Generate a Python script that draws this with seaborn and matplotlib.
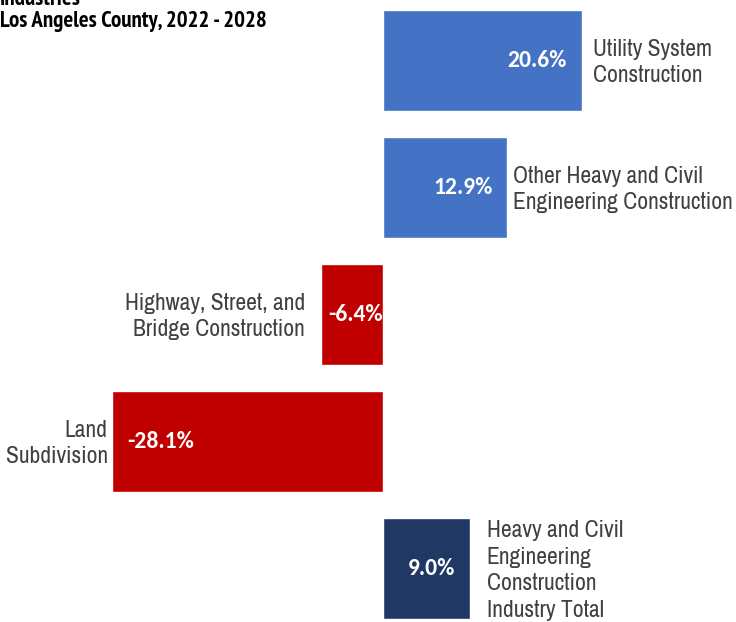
import matplotlib
matplotlib.use("Agg")
import matplotlib.pyplot as plt
from matplotlib import font_manager as fm
import seaborn as sns
import pandas as pd

# Projected employment change by industry
industries = [
    "Utility System\nConstruction",
    "Other Heavy and Civil\nEngineering Construction",
    "Highway, Street, and\nBridge Construction",
    "Land\nSubdivision",
    "Heavy and Civil\nEngineering\nConstruction\nIndustry Total",
]
pct_change = [20.6, 12.9, -6.4, -28.1, 9.0]
bar_colors = ["#4472C4", "#4472C4", "#C00000", "#C00000", "#203864"]

title_lines = ["Industries", "Los Angeles County, 2022 - 2028"]


def pick_font(candidates, need_bold=False):
    faces = fm.fontManager.ttflist
    for name in candidates:
        weights = [f.weight for f in faces if f.name == name]
        if not weights:
            continue
        if need_bold and not any(
                (w if isinstance(w, int) else 400) >= 600 or w == "bold"
                for w in weights):
            continue
        return name
    return "DejaVu Sans"


narrow_list = ["Liberation Sans Narrow", "Arial Narrow", "Archivo Narrow",
               "PT Sans Narrow", "Roboto Condensed", "Encode Sans Condensed"]
narrow = pick_font(narrow_list)
narrow_bold = pick_font(narrow_list, need_bold=True)
value_font = pick_font(["Carlito", "Calibri", "Lato"], need_bold=True)

df = pd.DataFrame({"industry": industries, "change": pct_change})

sns.set_theme(style="white")
plt.rcParams["font.family"] = [narrow, "DejaVu Sans"]

W, H, DPI = 736, 622, 100
fig = plt.figure(figsize=(W / DPI, H / DPI), dpi=DPI)
ax = fig.add_axes([0, 0, 1, 1])

sns.barplot(data=df, x="change", y="industry", hue="industry",
            palette=bar_colors, orient="h", width=0.795,
            legend=False, ax=ax, saturation=1)

# zero line at x=383 px, ~9.65 px per percentage point
px_per = 9.65
x0 = 383
ax.set_xlim(-x0 / px_per, (W - x0) / px_per)
ax.set_ylim((H - 60.5) / 127, -60.5 / 127)
ax.axis("off")

value_pad = 15 / px_per
label_pads = [11, 6, 16, 4, 17]
label_dy = 2 / 127
vkw = dict(va="center", color="white", fontsize=17, fontweight="bold",
           family=[value_font, "DejaVu Sans"])
for i, (v, lab) in enumerate(zip(pct_change, industries)):
    txt = f"{v:.1f}%"
    if abs(v) < 8:
        ax.text(v / 2 + 0.35, i, txt, ha="center", **vkw)
    elif v > 0:
        ax.text(v - value_pad, i, txt, ha="right", **vkw)
    else:
        ax.text(v + value_pad, i, txt, ha="left", **vkw)
    pad = label_pads[i] / px_per
    if v > 0:
        ax.text(v + pad, i + label_dy, lab, ha="left", va="center",
                color="#404040", fontsize=17, linespacing=1.32,
                multialignment="left")
    else:
        ax.text(v - pad, i + label_dy, lab, ha="right", va="center",
                color="#404040", fontsize=17, linespacing=1.32,
                multialignment="right")

tkw = dict(ha="left", va="baseline", fontsize=16.5, fontweight="bold",
           color="black", family=[narrow_bold, "DejaVu Sans"])
fig.text(0.0, 1 - 27 / H, title_lines[1], **tkw)
fig.text(0.0, 1 - 5 / H, title_lines[0], **tkw)

fig.savefig("out.png", dpi=DPI)
